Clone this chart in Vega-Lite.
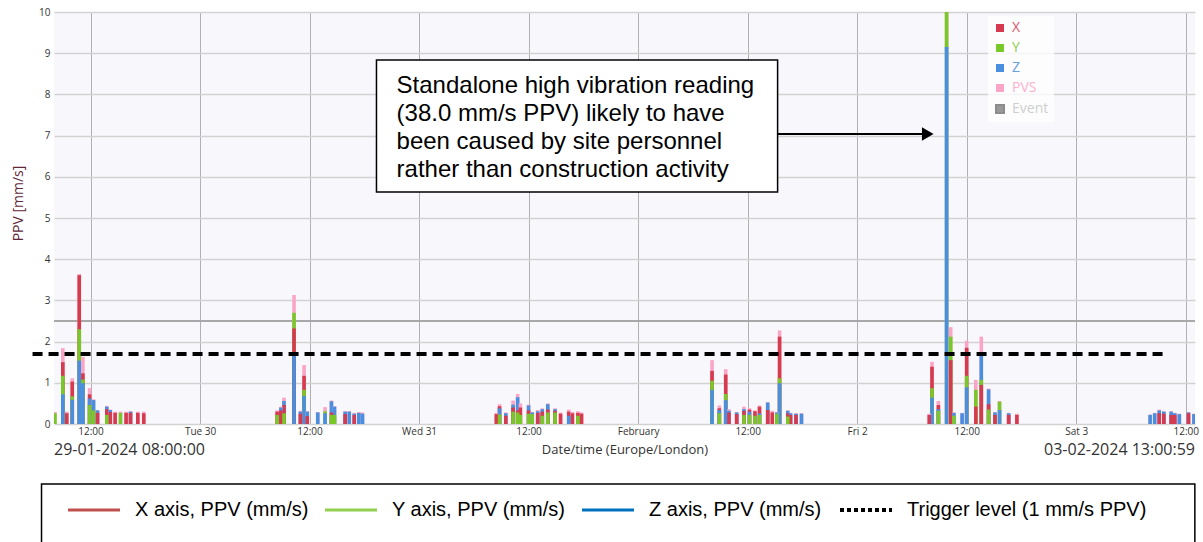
{
  "$schema": "https://vega.github.io/schema/vega-lite/v6.json",
  "width": 1141,
  "height": 412,
  "autosize": {"type": "none"},
  "padding": {"left": 54, "top": 12, "right": 8, "bottom": 130},
  "background": "white",
  "config": {"view": {"fill": "#f8f8fc", "stroke": null}, "font": "Open Sans"},
  "datasets": {
    "ppv": [
      {"t": "2024-01-29T08:06:00Z", "Y": 0.26, "PVS": 0.29},
      {"t": "2024-01-29T08:58:00Z", "Z": 0.72, "Y": 1.17, "X": 1.5, "PVS": 1.84},
      {"t": "2024-01-29T09:24:00Z", "X": 0.26, "PVS": 0.3},
      {"t": "2024-01-29T10:00:00Z", "Z": 0.59, "Y": 0.67, "X": 1.03, "PVS": 1.11},
      {"t": "2024-01-29T10:46:00Z", "Z": 1.54, "Y": 2.3, "X": 3.61, "PVS": 3.64},
      {"t": "2024-01-29T11:10:00Z", "Z": 0.99, "Y": 1.08, "X": 1.23, "PVS": 1.63},
      {"t": "2024-01-29T11:54:00Z", "Y": 0.46, "Z": 0.62, "X": 0.72, "PVS": 0.87},
      {"t": "2024-01-29T12:20:00Z", "Y": 0.33, "Z": 0.58, "PVS": 0.6},
      {"t": "2024-01-29T12:46:00Z", "X": 0.27, "Z": 0.33, "PVS": 0.34},
      {"t": "2024-01-29T13:47:00Z", "Y": 0.22, "X": 0.36, "Z": 0.42, "PVS": 0.44},
      {"t": "2024-01-29T14:10:00Z", "X": 0.29, "Z": 0.34, "PVS": 0.35},
      {"t": "2024-01-29T14:42:00Z", "X": 0.27, "PVS": 0.3},
      {"t": "2024-01-29T15:17:00Z", "Y": 0.27, "PVS": 0.3},
      {"t": "2024-01-29T15:54:00Z", "X": 0.27, "PVS": 0.3},
      {"t": "2024-01-29T16:23:00Z", "X": 0.27, "Z": 0.3, "PVS": 0.31},
      {"t": "2024-01-29T17:11:00Z", "X": 0.27, "PVS": 0.3},
      {"t": "2024-01-29T17:50:00Z", "X": 0.26, "PVS": 0.3},

      {"t": "2024-01-30T08:27:00Z", "Y": 0.22, "X": 0.3, "PVS": 0.33},
      {"t": "2024-01-30T08:52:00Z", "X": 0.33, "Z": 0.4, "PVS": 0.42},
      {"t": "2024-01-30T09:12:00Z", "Y": 0.26, "X": 0.46, "Z": 0.56, "PVS": 0.64},
      {"t": "2024-01-30T10:18:00Z", "Z": 1.72, "X": 2.32, "Y": 2.7, "PVS": 3.13},
      {"t": "2024-01-30T11:00:00Z", "X": 0.25, "Z": 0.3, "PVS": 0.32},
      {"t": "2024-01-30T11:24:00Z", "Z": 0.68, "Y": 0.83, "X": 1.17, "PVS": 1.43},
      {"t": "2024-01-30T11:45:00Z", "X": 0.19, "Z": 0.3, "PVS": 0.31},
      {"t": "2024-01-30T12:54:00Z", "Z": 0.28, "PVS": 0.29},
      {"t": "2024-01-30T13:42:00Z", "Z": 0.26, "Y": 0.31, "PVS": 0.41},
      {"t": "2024-01-30T14:24:00Z", "Y": 0.22, "X": 0.28, "Z": 0.55, "PVS": 0.57},
      {"t": "2024-01-30T14:44:00Z", "Y": 0.22, "Z": 0.42, "PVS": 0.43},
      {"t": "2024-01-30T15:54:00Z", "X": 0.24, "Z": 0.3, "PVS": 0.31},
      {"t": "2024-01-30T16:21:00Z", "Z": 0.3, "PVS": 0.31},
      {"t": "2024-01-30T16:54:00Z", "X": 0.22, "Z": 0.25, "PVS": 0.27},
      {"t": "2024-01-30T17:24:00Z", "Z": 0.27, "PVS": 0.29},
      {"t": "2024-01-30T17:48:00Z", "Z": 0.25, "PVS": 0.28},

      {"t": "2024-01-31T08:28:00Z", "X": 0.24, "PVS": 0.27},
      {"t": "2024-01-31T08:49:00Z", "Y": 0.23, "Z": 0.38, "X": 0.43, "PVS": 0.48},
      {"t": "2024-01-31T09:30:00Z", "X": 0.2, "Z": 0.26, "PVS": 0.28},
      {"t": "2024-01-31T10:18:00Z", "Y": 0.3, "X": 0.4, "Z": 0.47, "PVS": 0.57},
      {"t": "2024-01-31T10:48:00Z", "Y": 0.28, "X": 0.33, "Z": 0.65, "PVS": 0.73},
      {"t": "2024-01-31T11:06:00Z", "Y": 0.22, "X": 0.4, "PVS": 0.5},
      {"t": "2024-01-31T12:00:00Z", "Y": 0.25, "X": 0.33, "Z": 0.45, "PVS": 0.47},
      {"t": "2024-01-31T12:24:00Z", "Y": 0.24, "Z": 0.28, "PVS": 0.29},
      {"t": "2024-01-31T13:00:00Z", "X": 0.27, "Z": 0.31, "PVS": 0.34},
      {"t": "2024-01-31T13:30:00Z", "Y": 0.2, "X": 0.3, "Z": 0.36, "PVS": 0.38},
      {"t": "2024-01-31T14:06:00Z", "Y": 0.28, "X": 0.35, "Z": 0.48, "PVS": 0.5},
      {"t": "2024-01-31T14:54:00Z", "Y": 0.28, "X": 0.32, "Z": 0.36, "PVS": 0.38},
      {"t": "2024-01-31T15:30:00Z", "X": 0.25, "PVS": 0.28},
      {"t": "2024-01-31T16:24:00Z", "Z": 0.2, "X": 0.3, "PVS": 0.35},
      {"t": "2024-01-31T16:48:00Z", "X": 0.26, "PVS": 0.29},
      {"t": "2024-01-31T17:24:00Z", "Y": 0.2, "X": 0.27, "PVS": 0.31},
      {"t": "2024-01-31T17:48:00Z", "X": 0.25, "PVS": 0.28},

      {"t": "2024-02-01T08:06:00Z", "Z": 0.83, "Y": 1.05, "X": 1.29, "PVS": 1.55},
      {"t": "2024-02-01T08:54:00Z", "Y": 0.26, "Z": 0.34, "X": 0.38, "PVS": 0.45},
      {"t": "2024-02-01T09:36:00Z", "Z": 0.58, "Y": 0.73, "X": 1.2, "PVS": 1.33},
      {"t": "2024-02-01T09:57:00Z", "X": 0.28, "Z": 0.32, "PVS": 0.36},
      {"t": "2024-02-01T10:48:00Z", "X": 0.24, "Z": 0.28, "PVS": 0.29},
      {"t": "2024-02-01T11:36:00Z", "Y": 0.22, "X": 0.32, "Z": 0.36, "PVS": 0.42},
      {"t": "2024-02-01T12:12:00Z", "Y": 0.22, "Z": 0.3, "X": 0.35, "PVS": 0.38},
      {"t": "2024-02-01T12:48:00Z", "Y": 0.2, "X": 0.31, "PVS": 0.33},
      {"t": "2024-02-01T13:18:00Z", "Y": 0.22, "Z": 0.26, "X": 0.42, "PVS": 0.45},
      {"t": "2024-02-01T14:12:00Z", "X": 0.34, "Z": 0.52, "PVS": 0.53},
      {"t": "2024-02-01T14:42:00Z", "X": 0.28, "PVS": 0.32},
      {"t": "2024-02-01T15:12:00Z", "Y": 0.25, "Z": 0.28, "PVS": 0.29},
      {"t": "2024-02-01T15:30:00Z", "Z": 0.99, "Y": 1.11, "X": 2.12, "PVS": 2.27},
      {"t": "2024-02-01T16:24:00Z", "Y": 0.18, "X": 0.26, "Z": 0.32, "PVS": 0.33},
      {"t": "2024-02-01T16:42:00Z", "X": 0.22, "Z": 0.26, "PVS": 0.27},
      {"t": "2024-02-01T17:18:00Z", "X": 0.22, "Z": 0.25, "PVS": 0.26},
      {"t": "2024-02-01T17:54:00Z", "Z": 0.25, "PVS": 0.26},

      {"t": "2024-02-02T07:54:00Z", "X": 0.22, "PVS": 0.25},
      {"t": "2024-02-02T08:12:00Z", "Z": 0.64, "Y": 0.87, "X": 1.39, "PVS": 1.51},
      {"t": "2024-02-02T08:54:00Z", "Y": 0.32, "Z": 0.36, "X": 0.46, "PVS": 0.56},
      {"t": "2024-02-02T09:48:00Z", "Z": 9.15, "Y": 37.5, "PVS": 38.0},
      {"t": "2024-02-02T10:15:00Z", "X": 1.55, "Y": 2.12, "PVS": 2.35},
      {"t": "2024-02-02T10:36:00Z", "Y": 0.2, "Z": 0.27, "PVS": 0.28},
      {"t": "2024-02-02T11:30:00Z", "Z": 0.26, "PVS": 0.27},
      {"t": "2024-02-02T12:00:00Z", "Z": 0.89, "Y": 1.17, "X": 1.85, "PVS": 2.02},
      {"t": "2024-02-02T13:00:00Z", "X": 0.42, "Y": 0.83, "PVS": 1.07},
      {"t": "2024-02-02T13:36:00Z", "X": 0.95, "Y": 1.07, "Z": 1.72, "PVS": 2.12},
      {"t": "2024-02-02T14:24:00Z", "Y": 0.35, "X": 0.48, "Z": 0.84, "PVS": 0.86},
      {"t": "2024-02-02T15:06:00Z", "X": 0.22, "Z": 0.28, "PVS": 0.29},
      {"t": "2024-02-02T15:36:00Z", "Z": 0.34, "Y": 0.54, "PVS": 0.56},
      {"t": "2024-02-02T16:36:00Z", "X": 0.22, "Z": 0.26, "PVS": 0.27},
      {"t": "2024-02-02T17:30:00Z", "X": 0.22, "PVS": 0.25},

      {"t": "2024-02-03T08:06:00Z", "Z": 0.22, "PVS": 0.23},
      {"t": "2024-02-03T08:36:00Z", "Z": 0.26, "PVS": 0.27},
      {"t": "2024-02-03T09:06:00Z", "X": 0.26, "Z": 0.33, "PVS": 0.35},
      {"t": "2024-02-03T09:36:00Z", "X": 0.25, "Z": 0.3, "PVS": 0.31},
      {"t": "2024-02-03T10:24:00Z", "X": 0.22, "Z": 0.3, "PVS": 0.31},
      {"t": "2024-02-03T10:48:00Z", "X": 0.22, "Z": 0.26, "PVS": 0.27},
      {"t": "2024-02-03T11:18:00Z", "Z": 0.24, "PVS": 0.25},
      {"t": "2024-02-03T12:18:00Z", "X": 0.26, "Z": 0.28, "PVS": 0.29},
      {"t": "2024-02-03T12:54:00Z", "Z": 0.24, "PVS": 0.25}
    ]
  },
  "layer": [
    {
      "data": {"values": [{}]},
      "mark": {"type": "rule", "color": "#a8a8a8", "strokeWidth": 2},
      "encoding": {"y": {"datum": 2.5, "type": "quantitative"}}
    },
    {
      "data": {"name": "ppv"},
      "transform": [
        {"fold": ["PVS", "X", "Y", "Z"], "as": ["component", "ppv"]},
        {"filter": "isValid(datum.ppv)"}
      ],
      "mark": {"type": "bar", "size": 3.6, "clip": true},
      "encoding": {
        "x": {
          "field": "t", "type": "temporal",
          "scale": {"type": "utc", "padding": 0, "domain": [
            {"year": 2024, "month": 1, "date": 29, "hours": 8, "utc": true},
            {"year": 2024, "month": 2, "date": 3, "hours": 13, "minutes": 0, "seconds": 59, "utc": true}
          ]},
          "axis": {
            "values": [
              {"year": 2024, "month": 1, "date": 29, "hours": 12, "utc": true},
              {"year": 2024, "month": 1, "date": 30, "hours": 0, "utc": true},
              {"year": 2024, "month": 1, "date": 30, "hours": 12, "utc": true},
              {"year": 2024, "month": 1, "date": 31, "hours": 0, "utc": true},
              {"year": 2024, "month": 1, "date": 31, "hours": 12, "utc": true},
              {"year": 2024, "month": 2, "date": 1, "hours": 0, "utc": true},
              {"year": 2024, "month": 2, "date": 1, "hours": 12, "utc": true},
              {"year": 2024, "month": 2, "date": 2, "hours": 0, "utc": true},
              {"year": 2024, "month": 2, "date": 2, "hours": 12, "utc": true},
              {"year": 2024, "month": 2, "date": 3, "hours": 0, "utc": true},
              {"year": 2024, "month": 2, "date": 3, "hours": 12, "utc": true}
            ],
            "labelExpr": "utchours(datum.value) == 12 ? '12:00' : (utcdate(datum.value) == 1 ? utcFormat(datum.value, '%B') : utcFormat(datum.value, '%a %-d'))",
            "title": "Date/time (Europe/London)",
            "grid": true, "gridColor": "#b0b0b0", "gridWidth": 1,
            "domain": false, "ticks": false,
            "labelFont": "Open Sans", "labelFontSize": 10, "labelColor": "#333333", "labelPadding": 2,
            "labelFlush": false, "labelOverlap": false,
            "titleFont": "Open Sans", "titleFontSize": 13, "titleColor": "#333333", "titleFontWeight": "normal", "titlePadding": 7
          }
        },
        "y": {
          "field": "ppv", "type": "quantitative", "stack": null,
          "scale": {"domain": [0, 10], "nice": false},
          "axis": {
            "values": [0, 1, 2, 3, 4, 5, 6, 7, 8, 9, 10],
            "title": "PPV [mm/s]",
            "grid": true, "gridColor": "#d2d2d2", "gridWidth": 1.5,
            "domain": false, "ticks": false,
            "labelFont": "Open Sans", "labelFontSize": 10, "labelColor": "#333333", "labelPadding": 4,
            "titleFont": "Open Sans", "titleFontSize": 14, "titleColor": "#5e2838", "titleFontWeight": "normal",
            "titleX": -36, "titleY": 191, "titleAlign": "center", "titleBaseline": "middle", "titleAngle": -90
          }
        },
        "color": {
          "field": "component", "type": "nominal",
          "scale": {"domain": ["X", "Y", "Z", "PVS", "Event"], "range": ["#d63a4e", "#7ac729", "#4a8fdf", "#fba4c6", "#999999"]},
          "legend": {
            "orient": "none", "legendX": 934, "legendY": 4, "title": null,
            "symbolType": "square", "symbolSize": 64, "labelFont": "Open Sans", "labelFontSize": 14,
            "rowPadding": 6, "labelOffset": 5, "padding": 5, "fillColor": "rgba(255,255,255,0.75)",
            "encode": {
              "symbols": {"update": {
                "fill": {"signal": "datum.value === 'Event' ? '#ffffff' : scale('color', datum.value)"},
                "stroke": {"signal": "datum.value === 'Event' ? '#8c8c8c' : scale('color', datum.value)"},
                "strokeWidth": {"signal": "datum.value === 'Event' ? 2 : 0"}
              }},
              "labels": {"update": {
                "fill": {"signal": "datum.value === 'Event' ? '#c8c8c8' : scale('color', datum.value)"},
                "opacity": {"value": 0.85}
              }}
            }
          }
        },
        "order": {"field": "ppv", "sort": "descending"}
      }
    },
    {
      "data": {"values": [{"series": "Trigger level (1 mm/s PPV)"}]},
      "mark": {"type": "rule", "strokeWidth": 4, "strokeDash": [10, 6], "clip": false},
      "encoding": {
        "x": {"datum": {"year": 2024, "month": 1, "date": 29, "hours": 5, "minutes": 39, "utc": true}, "type": "temporal"},
        "x2": {"datum": {"year": 2024, "month": 2, "date": 3, "hours": 9, "minutes": 42, "utc": true}},
        "y": {"datum": 1.7, "type": "quantitative"},
        "stroke": {
          "field": "series", "type": "nominal",
          "scale": {"domain": ["X axis, PPV (mm/s)", "Y axis, PPV (mm/s)", "Z axis, PPV (mm/s)", "Trigger level (1 mm/s PPV)"], "range": ["#c0504d", "#92d050", "#0070c0", "#000000"]},
          "legend": {
            "orient": "none", "legendX": 30, "legendY": 488, "direction": "horizontal", "columns": 4, "title": null,
            "symbolType": "stroke", "symbolSize": 2704, "symbolStrokeWidth": 3,
            "labelFont": "Liberation Sans", "labelFontSize": 20, "labelColor": "#000000", "labelOffset": 31, "labelLimit": 0,
            "columnPadding": 10, "padding": 0,
            "encode": {
              "symbols": {"update": {
                "strokeDash": {"signal": "datum.value === 'Trigger level (1 mm/s PPV)' ? [4, 3] : [1, 0]"},
                "strokeWidth": {"signal": "datum.value === 'Trigger level (1 mm/s PPV)' ? 4 : 3"}
              }}
            }
          }
        }
      }
    },
    {
      "data": {"values": [{}]},
      "mark": {"type": "rect", "fill": "transparent", "stroke": "#000000", "strokeWidth": 1.5, "clip": false},
      "encoding": {
        "x": {"datum": {"year": 2024, "month": 1, "date": 29, "hours": 6, "minutes": 38, "utc": true}, "type": "temporal"},
        "x2": {"datum": {"year": 2024, "month": 2, "date": 3, "hours": 13, "minutes": 0, "utc": true}},
        "y": {"datum": -1.456, "type": "quantitative"},
        "y2": {"datum": -3.2}
      }
    },
    {
      "data": {"values": [{}]},
      "mark": {"type": "text", "align": "left", "baseline": "middle", "font": "Open Sans", "fontSize": 16, "color": "#333333", "clip": false},
      "encoding": {
        "x": {"datum": {"year": 2024, "month": 1, "date": 29, "hours": 8, "utc": true}, "type": "temporal"},
        "y": {"datum": -0.64, "type": "quantitative"},
        "text": {"value": "29-01-2024 08:00:00"}
      }
    },
    {
      "data": {"values": [{}]},
      "mark": {"type": "text", "align": "right", "baseline": "middle", "font": "Open Sans", "fontSize": 16, "color": "#333333", "clip": false},
      "encoding": {
        "x": {"datum": {"year": 2024, "month": 2, "date": 3, "hours": 13, "minutes": 0, "seconds": 59, "utc": true}, "type": "temporal"},
        "y": {"datum": -0.64, "type": "quantitative"},
        "text": {"value": "03-02-2024 13:00:59"}
      }
    },
    {
      "data": {"values": [{}]},
      "mark": {"type": "rect", "fill": "#ffffff", "stroke": "#000000", "strokeWidth": 1.5},
      "encoding": {
        "x": {"datum": {"year": 2024, "month": 1, "date": 30, "hours": 19, "minutes": 20, "utc": true}, "type": "temporal"},
        "x2": {"datum": {"year": 2024, "month": 2, "date": 1, "hours": 15, "minutes": 17, "utc": true}},
        "y": {"datum": 8.835, "type": "quantitative"},
        "y2": {"datum": 5.631}
      }
    },
    {
      "data": {"values": [{}]},
      "mark": {"type": "text", "align": "left", "baseline": "alphabetic", "font": "Liberation Sans", "fontSize": 24, "lineHeight": 28, "lineBreak": "\n", "color": "#000000"},
      "encoding": {
        "x": {"datum": {"year": 2024, "month": 1, "date": 30, "hours": 21, "minutes": 32, "utc": true}, "type": "temporal"},
        "y": {"datum": 8.034, "type": "quantitative"},
        "text": {"value": "Standalone high vibration reading\n(38.0 mm/s PPV) likely to have\nbeen caused by site personnel\nrather than construction activity"}
      }
    },
    {
      "data": {"values": [{}]},
      "mark": {"type": "rule", "color": "#000000", "strokeWidth": 2},
      "encoding": {
        "x": {"datum": {"year": 2024, "month": 2, "date": 1, "hours": 15, "minutes": 17, "utc": true}, "type": "temporal"},
        "x2": {"datum": {"year": 2024, "month": 2, "date": 2, "hours": 7, "minutes": 44, "utc": true}},
        "y": {"datum": 7.04, "type": "quantitative"}
      }
    },
    {
      "data": {"values": [{}]},
      "mark": {"type": "point", "shape": "triangle-right", "filled": true, "color": "#000000", "size": 180, "opacity": 1},
      "encoding": {
        "x": {"datum": {"year": 2024, "month": 2, "date": 2, "hours": 7, "minutes": 44, "utc": true}, "type": "temporal"},
        "y": {"datum": 7.04, "type": "quantitative"}
      }
    }
  ]
}
